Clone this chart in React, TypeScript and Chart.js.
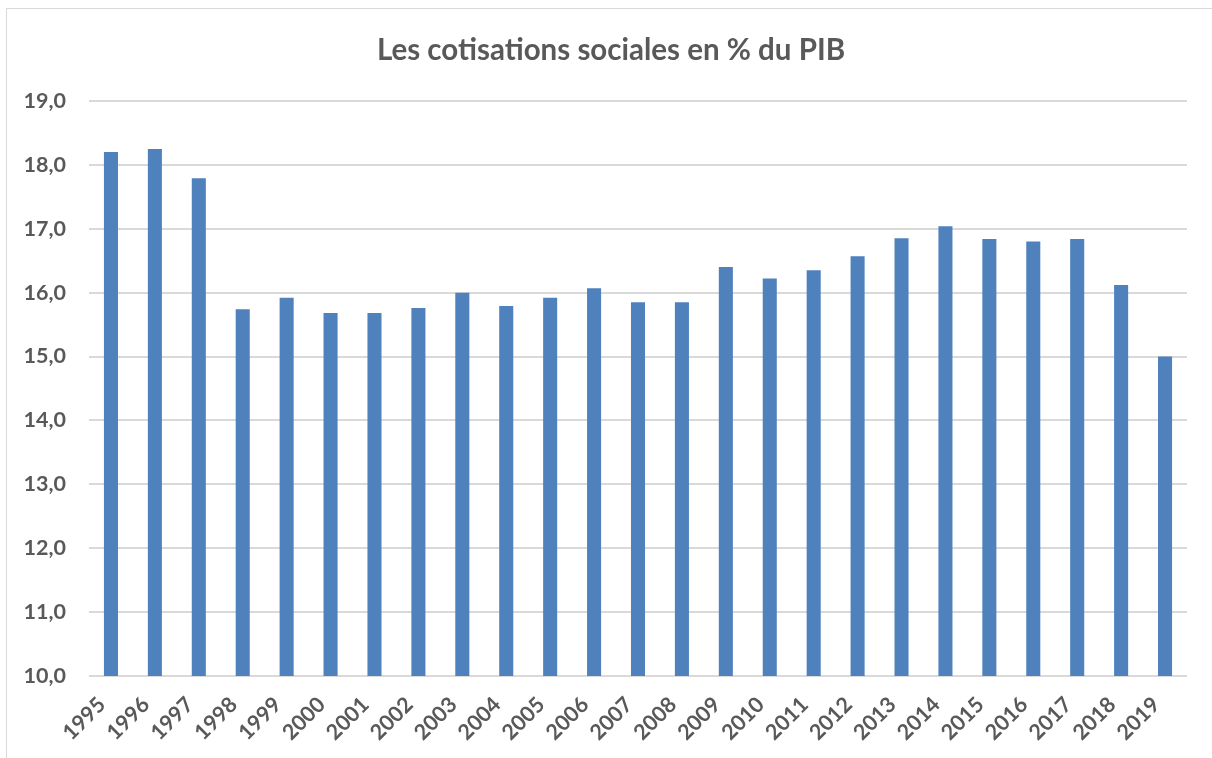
import React, { useEffect, useRef } from "react";
import { Chart, registerables } from "chart.js";

Chart.register(...registerables);

const years = [
  "1995", "1996", "1997", "1998", "1999", "2000", "2001", "2002", "2003", "2004",
  "2005", "2006", "2007", "2008", "2009", "2010", "2011", "2012", "2013", "2014",
  "2015", "2016", "2017", "2018", "2019",
];

const cotisations = [
  18.2, 18.25, 17.79, 15.74, 15.92, 15.68, 15.68, 15.76, 16.0, 15.79,
  15.92, 16.07, 15.85, 15.85, 16.4, 16.22, 16.35, 16.57, 16.85, 17.04,
  16.84, 16.8, 16.84, 16.12, 15.0,
];

const titleText = "Les cotisations sociales en % du PIB";
const yMin = 10;
const yMax = 19;

const FONT = "Lato";
const TEXT_COLOR = "#595959";
const GRID_COLOR = "#d9d9d9";
const BAR_COLOR = "#4f81bd";

export default function App() {
  const canvasRef = useRef<HTMLCanvasElement | null>(null);

  useEffect(() => {
    const canvas = canvasRef.current;
    if (!canvas) return;
    const chart = new Chart(canvas, {
      type: "bar",
      data: {
        labels: years,
        datasets: [
          {
            label: "Cotisations sociales",
            data: cotisations,
            backgroundColor: BAR_COLOR,
            borderWidth: 0,
            categoryPercentage: 1,
            barPercentage: 0.32,
          },
        ],
      },
      options: {
        responsive: false,
        animation: false,
        layout: { padding: { left: 10, right: 0, top: 0, bottom: 0 } },
        plugins: {
          legend: { display: false },
          tooltip: { enabled: false },
          title: {
            display: true,
            text: titleText,
            color: TEXT_COLOR,
            font: { family: FONT, size: 29.5, weight: "bold" },
            padding: { top: 33, bottom: 32.6 },
          },
        },
        scales: {
          x: {
            grid: { display: false, drawTicks: false },
            border: { display: false },
            ticks: {
              autoSkip: false,
              minRotation: 45,
              maxRotation: 45,
              padding: 16,
              labelOffset: -9,
              color: TEXT_COLOR,
              font: { family: FONT, size: 21.5, weight: "bold" },
            },
            afterFit: (scale: any) => {
              scale.height = 82;
            },
          },
          y: {
            min: yMin,
            max: yMax,
            grid: { color: GRID_COLOR, lineWidth: 2, drawTicks: false },
            border: { display: false },
            ticks: {
              stepSize: 1,
              padding: 23,
              color: TEXT_COLOR,
              font: { family: FONT, size: 21.5, weight: "bold" },
              callback: (v: any) => Number(v).toFixed(1).replace(".", ","),
            },
            afterFit: (scale: any) => {
              scale.width = 79;
            },
          },
          ySpacer: {
            position: "right",
            min: yMin,
            max: yMax,
            grid: { display: false, drawTicks: false },
            border: { display: false },
            ticks: { display: false },
            afterFit: (scale: any) => {
              scale.width = 25;
            },
          },
        },
      },
    } as any);
    return () => chart.destroy();
  }, []);

  return (
    <div
      style={{
        position: "fixed",
        left: 0,
        top: 0,
        width: 1212,
        height: 758,
        overflow: "hidden",
        background: "#ffffff",
      }}
    >
      <div
        style={{
          position: "absolute",
          left: 6,
          top: 8,
          width: 1400,
          height: 900,
          border: `1px solid ${GRID_COLOR}`,
        }}
      />
      <canvas
        ref={canvasRef}
        width={1212}
        height={758}
        style={{ position: "absolute", left: 0, top: 0, width: 1212, height: 758 }}
      />
    </div>
  );
}
